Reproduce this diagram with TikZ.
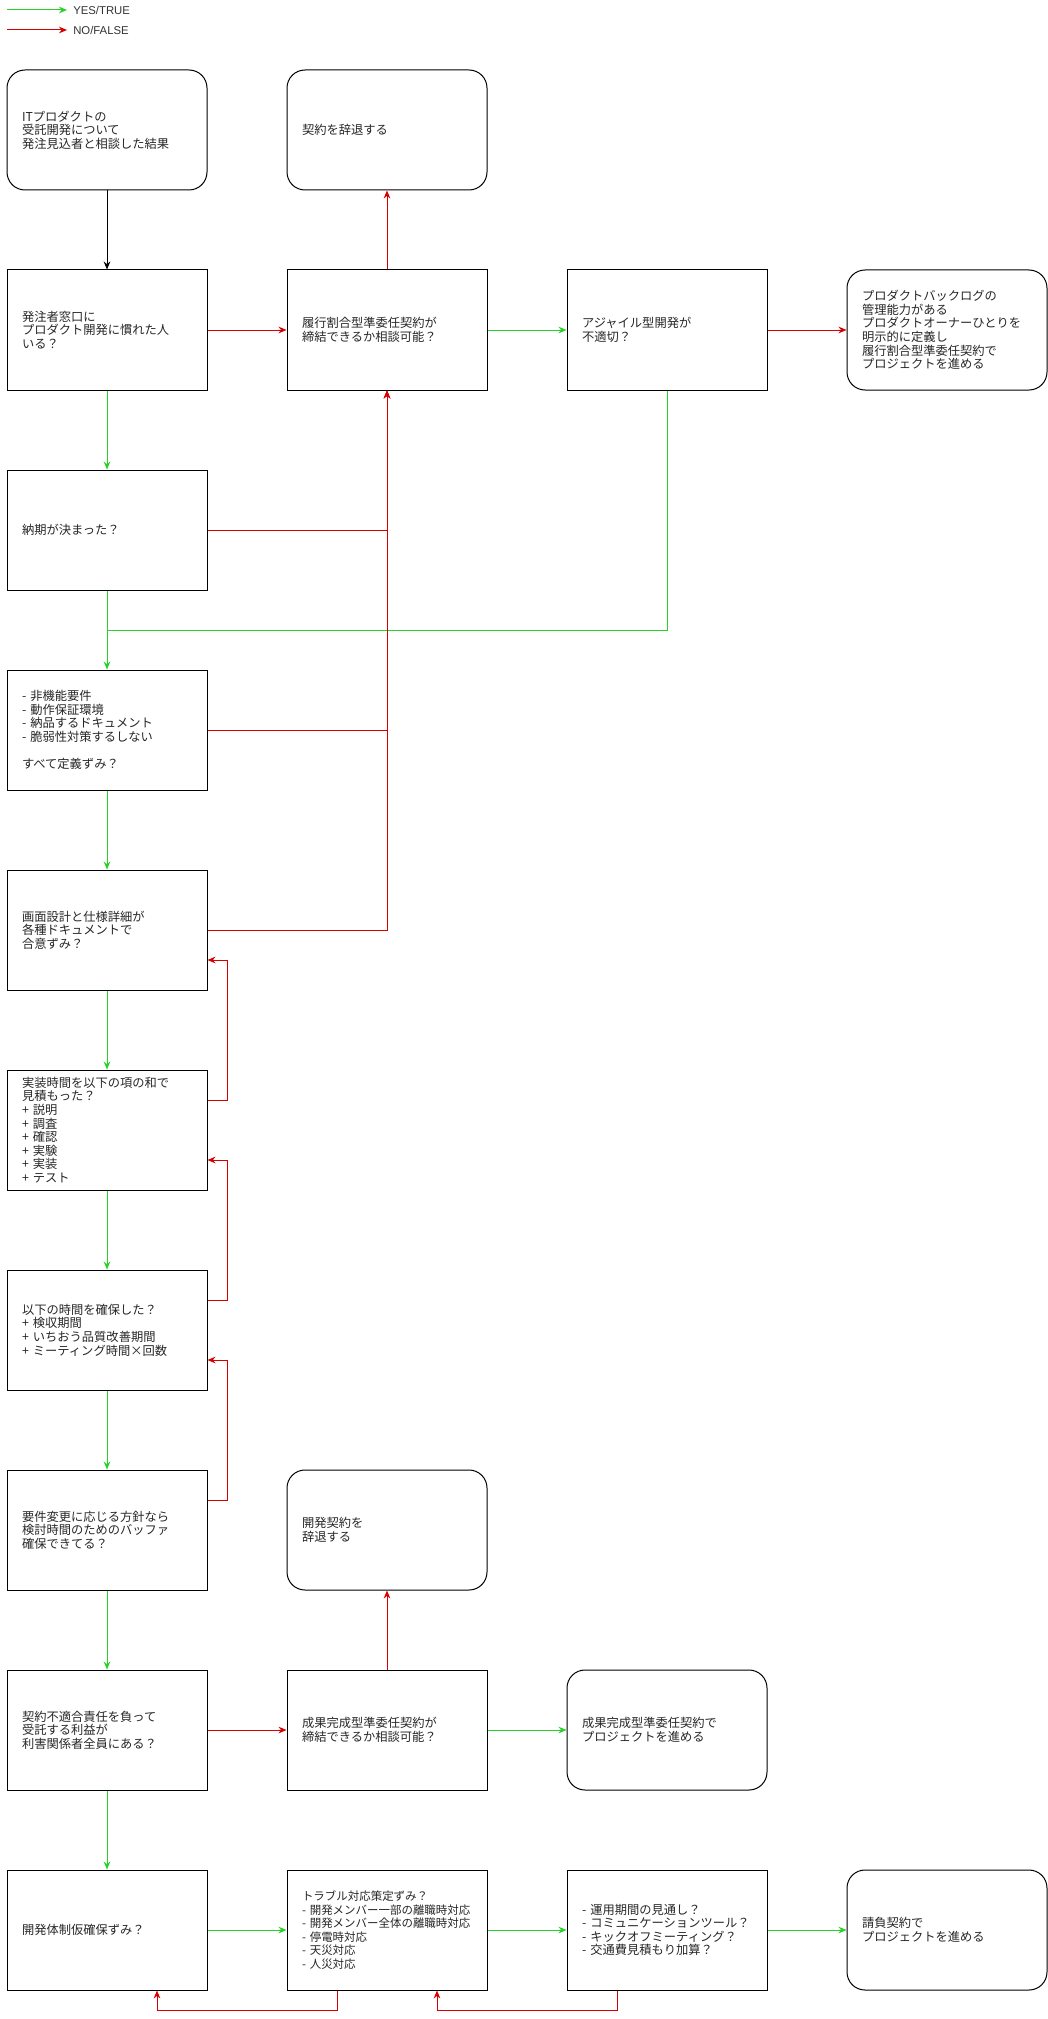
\documentclass[tikz,border=0pt]{standalone}
\usepackage{fontspec}
\setmainfont{Noto Sans CJK JP}
\newfontfamily\legendfont{Liberation Sans}
\usetikzlibrary{arrows.meta}
\definecolor{yescol}{RGB}{40,210,40}
\definecolor{nocol}{RGB}{214,0,0}
\tikzset{
  box/.style={draw, line width=0.75pt, minimum width=150pt, minimum height=90pt,
    text width=127.5pt, inner xsep=11.25pt, align=left, text=black!85,
    font=\fontsize{9.2pt}{10.2pt}\selectfont},
  endbox/.style={box, rounded corners=13.5pt},
  yes/.style={draw=yescol, line width=0.75pt, -{Stealth[length=6pt,width=5pt]}},
  yesline/.style={draw=yescol, line width=0.75pt},
  no/.style={draw=nocol, line width=0.75pt, -{Stealth[length=6pt,width=5pt]}},
  plain/.style={draw=black, line width=0.75pt, -{Stealth[length=6pt,width=5pt]}},
  legend/.style={anchor=west, inner sep=0pt, text=black!80, font=\legendfont\fontsize{8.5pt}{10pt}\selectfont}
}

\begin{document}
\begin{tikzpicture}[x=0.75pt,y=-0.75pt]
  \useasboundingbox (0,0) rectangle (1048,2019);
  % legend
  \coordinate (ly0) at (7,10);
  \coordinate (ly1) at (67,10);
  \coordinate (ln0) at (7,30);
  \coordinate (ln1) at (67,30);
  \draw[yes] (ly0) -- (ly1);
  \draw[no] (ln0) -- (ln1);
  \node[legend] (lyes) at (73,10) {YES/TRUE};
  \node[legend] (lno) at (73,30) {NO/FALSE};

  % main column
  \node[endbox] (start) at (107,130) {ITプロダクトの\\受託開発について\\発注見込者と相談した結果};
  \node[box] (tanto) at (107,330) {発注者窓口に\\プロダクト開発に慣れた人\\いる？};
  \node[box] (nouki) at (107,530) {納期が決まった？};
  \node[box] (hikinou) at (107,730) {-~非機能要件\\-~動作保証環境\\-~納品するドキュメント\\-~脆弱性対策するしない\\[10pt]すべて定義ずみ？};
  \node[box] (gamen) at (107,930) {画面設計と仕様詳細が\\各種ドキュメントで\\合意ずみ？};
  \node[box] (jisou) at (107,1130) {実装時間を以下の項の和で\\見積もった？\\+~説明\\+~調査\\+~確認\\+~実験\\+~実装\\+~テスト};
  \node[box] (kakuho) at (107,1330) {以下の時間を確保した？\\+~検収期間\\+~いちおう品質改善期間\\+~ミーティング時間×回数};
  \node[box] (youken) at (107,1530) {要件変更に応じる方針なら\\検討時間のためのバッファ\\確保できてる？};
  \node[box] (futekigou) at (107,1730) {契約不適合責任を負って\\受託する利益が\\利害関係者全員にある？};
  \node[box] (taisei) at (107,1930) {開発体制仮確保ずみ？};

  % right side
  \node[endbox] (jitai) at (387,130) {契約を辞退する};
  \node[box] (rikou) at (387,330) {履行割合型準委任契約が\\締結できるか相談可能？};
  \node[box] (agile) at (667,330) {アジャイル型開発が\\不適切？};
  \node[endbox] (backlog) at (947,330) {プロダクトバックログの\\管理能力がある\\プロダクトオーナーひとりを\\明示的に定義し\\履行割合型準委任契約で\\プロジェクトを進める};
  \node[endbox] (jitai2) at (387,1530) {開発契約を\\辞退する};
  \node[box] (seika) at (387,1730) {成果完成型準委任契約が\\締結できるか相談可能？};
  \node[endbox] (seikaend) at (667,1730) {成果完成型準委任契約で\\プロジェクトを進める};
  \node[box, font=\fontsize{8.6pt}{10.2pt}\selectfont] (trouble) at (387,1930) {トラブル対応策定ずみ？\\-~開発メンバー一部の離職時対応\\-~開発メンバー全体の離職時対応\\-~停電時対応\\-~天災対応\\-~人災対応};
  \node[box] (unyou) at (667,1930) {-~運用期間の見通し？\\-~コミュニケーションツール？\\-~キックオフミーティング？\\-~交通費見積もり加算？};
  \node[endbox] (ukeoi) at (947,1930) {請負契約で\\プロジェクトを進める};

  % connectors
  \coordinate (gj) at (107,630);
  \draw[plain] (start) -- (tanto);
  \draw[no] (tanto) -- (rikou);
  \draw[no] (rikou) -- (jitai);
  \draw[yes] (rikou) -- (agile);
  \draw[no] (agile) -- (backlog);
  \draw[yesline] (agile.south) |- (gj);
  \draw[yes] (tanto) -- (nouki);
  \draw[yes] (nouki) -- (hikinou);
  \draw[no] (nouki.east) -| (rikou.south);
  \draw[no] (hikinou.east) -| (rikou.south);
  \draw[no] (gamen.east) -| (rikou.south);
  \draw[yes] (hikinou) -- (gamen);
  \draw[yes] (gamen) -- (jisou);
  \draw[yes] (jisou) -- (kakuho);
  \draw[yes] (kakuho) -- (youken);
  \draw[yes] (youken) -- (futekigou);
  \draw[no] ([yshift=22.5pt]jisou.east) -- ++(20,0) |- ([yshift=-22.5pt]gamen.east);
  \draw[no] ([yshift=22.5pt]kakuho.east) -- ++(20,0) |- ([yshift=-22.5pt]jisou.east);
  \draw[no] ([yshift=22.5pt]youken.east) -- ++(20,0) |- ([yshift=-22.5pt]kakuho.east);
  \draw[no] (futekigou) -- (seika);
  \draw[no] (seika) -- (jitai2);
  \draw[yes] (seika) -- (seikaend);
  \draw[yes] (futekigou) -- (taisei);
  \draw[yes] (taisei) -- (trouble);
  \draw[yes] (trouble) -- (unyou);
  \draw[yes] (unyou) -- (ukeoi);
  \draw[no] ([xshift=-37.5pt]trouble.south) -- ++(0,20) -| ([xshift=37.5pt]taisei.south);
  \draw[no] ([xshift=-37.5pt]unyou.south) -- ++(0,20) -| ([xshift=37.5pt]trouble.south);
\end{tikzpicture}
\end{document}
